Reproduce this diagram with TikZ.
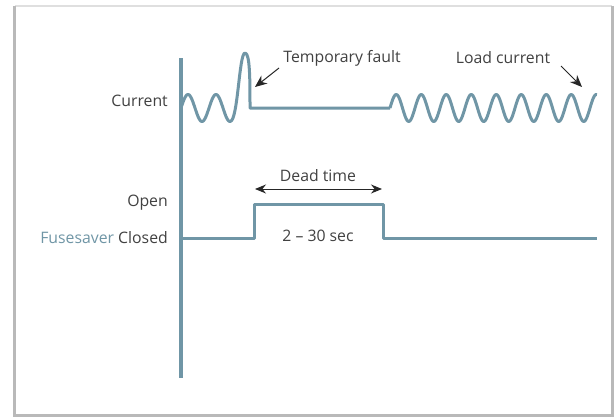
\documentclass[tikz,border=0pt]{standalone}
\usepackage{fontspec}
\setmainfont{Open Sans}
\usetikzlibrary{arrows.meta}
\usetikzlibrary{positioning}
\definecolor{fsblue}{RGB}{112,150,166}
\definecolor{txtgray}{RGB}{65,65,65}
\tikzset{
	signal/.style={draw=fsblue, line width=3pt, line join=round},
	lbl/.style={inner sep=0pt, text=txtgray, font=\fontsize{15.8}{18}\selectfont},
	pointer/.style={-{Stealth[length=12pt,width=10pt]}, line width=1pt, black!85},
}
\begin{document}
\begin{tikzpicture}[x=1pt, y=-1pt, >=Latex]
		\useasboundingbox (0,0) rectangle (616,418);
		% frame with shadow
		\draw[gray!25, line width=2pt] (15,6) -- (612,6);
		\draw[gray!55, line width=3pt] (14,6) -- (14,415) -- (612,415) -- (612,6);
		\fill[white] (16,7) rectangle (610,413);
		% axis
		\draw[fsblue, line width=4pt] (181,58) -- (181,378);
		% current trace
		\draw[signal] (181,108)
			plot[domain=0:1.75, samples=60] ({181+\x*28}, {108-13.5*sin(\x*360)})
			.. controls (238,122) and (239,53) .. (245,53)
			.. controls (250,53) and (250,80) .. (250,108)
			-- (390,108)
			plot[domain=0:8.28, samples=220] ({390+\x*25}, {108-13.5*sin(\x*360)});
		% breaker state
		\draw[signal] (181,238) -- (254,238) -- (254,204) -- (383,204) -- (383,238) -- (597,238);
		% labels
		\node[lbl, anchor=east] (cur) at (168,101) {Current};
		\node[lbl, anchor=east] (open) at (168,203) {Open};
		\node[lbl, anchor=east] (closed) at (168,238) {\textcolor{fsblue}{Fusesaver} Closed};
		\node[lbl] (fault) at (342,58) {Temporary fault};
		\node[lbl] (load) at (503,58) {Load current};
		\node[lbl] (dead) at (318,176) {Dead time};
		\node[lbl] (span) at (318,236) {2 – 30 sec};
		\coordinate (faultfrom) at (279,68);
		\coordinate (faulttip) at (255,87);
		\coordinate (loadfrom) at (561,66);
		\coordinate (loadtip) at (582,87);
		\coordinate (deadl) at (255,189);
		\coordinate (deadr) at (382,189);
		\draw[pointer] (faultfrom) -- (faulttip);
		\draw[pointer] (loadfrom) -- (loadtip);
		\draw[{Stealth[length=11pt,width=9pt]}-{Stealth[length=11pt,width=9pt]}, line width=1pt, black!85] (deadl) -- (deadr);
	\end{tikzpicture}
\end{document}
